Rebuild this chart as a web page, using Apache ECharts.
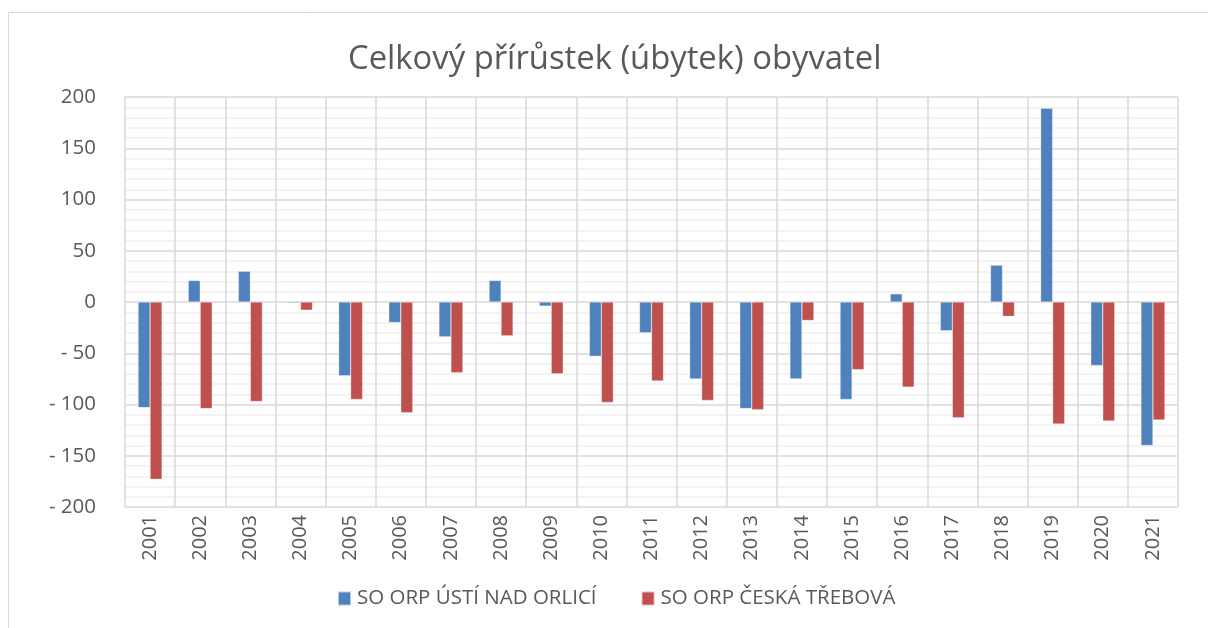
<!DOCTYPE html>
<html><head><meta charset="utf-8">
<script src="https://cdn.jsdelivr.net/npm/echarts@6/dist/echarts.min.js"></script>
<style>html,body{margin:0;padding:0;background:#fff}#c{width:1208px;height:628px}</style>
</head><body><div id="c"></div>
<script>
const categories = ['2001','2002','2003','2004','2005','2006','2007','2008','2009','2010','2011','2012','2013','2014','2015','2016','2017','2018','2019','2020','2021'];
const seriesNames = ['SO ORP ÚSTÍ NAD ORLICÍ', 'SO ORP ČESKÁ TŘEBOVÁ'];
const usti = [-103, 21, 30, -1, -72, -20, -34, 21, -4, -53, -30, -75, -104, -75, -95, 8, -28, 36, 189, -62, -140];
const trebova = [-173, -104, -97, -8, -95, -108, -69, -33, -70, -98, -77, -96, -105, -18, -66, -83, -113, -14, -119, -116, -115];
const yTicks = { min: -200, max: 200, interval: 50 };

const font = '"Open Sans", "Noto Sans", sans-serif';
const chart = echarts.init(document.getElementById('c'), null, {renderer: 'canvas'});
chart.setOption({
  animation: false,
  backgroundColor: '#fff',
  graphic: [{
    type: 'rect', shape: {x: 8.5, y: 12.5, width: 1220, height: 640},
    style: {fill: 'none', stroke: '#d9d9d9', lineWidth: 1}, silent: true
  }],
  title: {
    text: 'Celkový přírůstek (úbytek) obyvatel',
    left: 343, top: 38,
    textStyle: {fontFamily: font, fontSize: 32.8, fontWeight: 'normal', color: '#595959'}
  },
  legend: {
    bottom: 14, left: 332, itemWidth: 13, itemHeight: 14, itemGap: 44,
    icon: 'rect',
    textStyle: {fontFamily: font, fontSize: 20.5, color: '#595959', padding: [0, 0, 0, 1]},
    data: seriesNames
  },
  grid: {left: 125, right: 30, top: 97, bottom: 121, containLabel: false},
  xAxis: {
    type: 'category', data: categories,
    axisLine: {show: false}, axisTick: {show: false},
    splitLine: {show: true, lineStyle: {color: '#d9d9d9', width: 1.5}},
    axisLabel: {rotate: 90, fontFamily: font, fontSize: 20, color: '#595959', margin: 8}
  },
  yAxis: {
    type: 'value', min: yTicks.min, max: yTicks.max, interval: yTicks.interval,
    axisLine: {show: false}, axisTick: {show: false},
    splitLine: {lineStyle: {color: '#d9d9d9', width: 1.5}},
    minorTick: {show: false, splitNumber: 5},
    minorSplitLine: {show: true, lineStyle: {color: '#f0f0f0', width: 1.5}},
    axisLabel: {
      fontFamily: font, fontSize: 20.5, color: '#595959', margin: 29,
      formatter: v => v < 0 ? '- ' + Math.abs(v) : String(v)
    }
  },
  series: [
    {name: seriesNames[0], type: 'bar', data: usti, barWidth: 12, barGap: '0%',
     itemStyle: {color: '#4F81BD', borderColor: 'rgba(255,255,255,0.6)', borderWidth: 0.5}},
    {name: seriesNames[1], type: 'bar', data: trebova, barWidth: 12, barGap: '0%',
     itemStyle: {color: '#C0504D', borderColor: 'rgba(255,255,255,0.6)', borderWidth: 0.5}}
  ]
});
</script></body></html>
